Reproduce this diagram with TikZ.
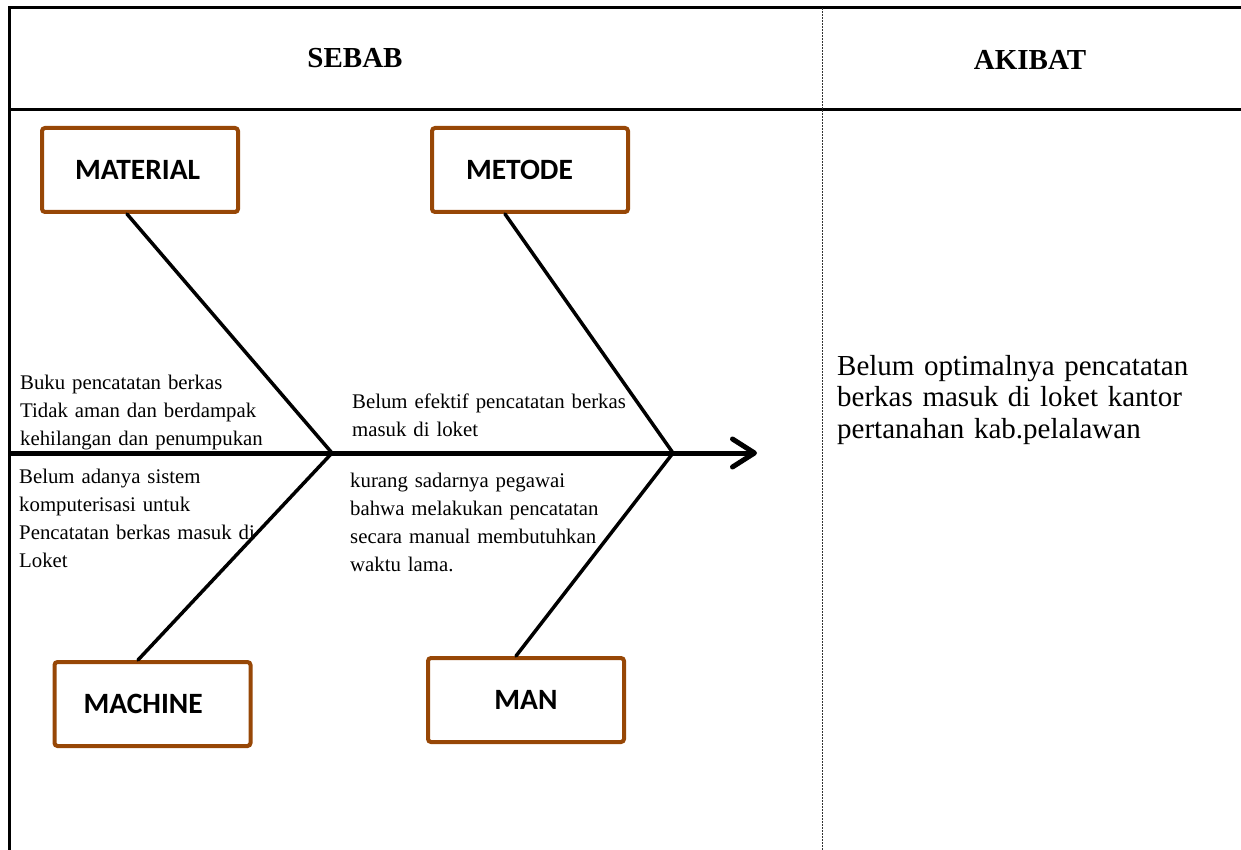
\documentclass[tikz,border=0pt]{standalone}
\usepackage{fontspec}
\setmainfont{Liberation Serif}
\newfontfamily\calib{Carlito}
\usetikzlibrary{arrows.meta}
\definecolor{boxbrown}{HTML}{974706}
\begin{document}
\begin{tikzpicture}[x=1pt,y=-1pt,
  frame/.style={line width=3pt},
  sepline/.style={line width=1pt, dash pattern=on 2pt off 1pt, draw=black!80},
  cbox/.style={draw=boxbrown, line width=4pt, rounded corners=3pt, minimum height=84pt,
    inner xsep=0pt, inner ysep=0pt, text width=196pt, align=left,
    font=\calib\bfseries\fontsize{29.5}{34}\selectfont},
  bone/.style={line width=3.5pt, line cap=round},
  spine/.style={line width=5pt, -{Straight Barb[length=22pt,width=28pt,round]}},
  body/.style={anchor=base west, inner sep=0pt, text width=330pt, align=left,
    font=\fontsize{20.8}{28}\selectfont},
  headtxt/.style={font=\bfseries\fontsize{29}{34}\selectfont, inner sep=0pt}
]
\useasboundingbox (0,0) rectangle (1241,850);
% frame
\draw[frame] (9,850) -- (9,8) -- (1241,8);
\draw[frame] (9,110) -- (1241,110);
\draw[sepline] (822,8) -- (822,850);
% headings
\node[headtxt] (sebab) at (355,58) {SEBAB};
\node[headtxt] (akibat) at (1030,60) {AKIBAT};
% category boxes
\node[cbox] (mat) at (140,170) {\hspace*{33pt}MATERIAL};
\node[cbox] (met) at (530,170) {\hspace*{34pt}METODE};
\node[cbox] (mach) at (152.5,704) {\hspace*{29pt}MACHINE};
\node[cbox, align=center] (man) at (526,700) {MAN};
% spine and bones
\coordinate (tail) at (9,453);
\coordinate (tip) at (757,453);
\coordinate (j1) at (332,453);
\coordinate (j2) at (673,453);
\draw[spine] (tail) -- (tip);
\draw[bone] ([xshift=-13pt]mat.south) -- (j1);
\draw[bone] ([xshift=-14.5pt]mach.north) -- (j1);
\draw[bone] ([xshift=-25pt]met.south) -- (j2);
\draw[bone] ([xshift=-10pt]man.north) -- (j2);
% cause texts
\node[body] (t1) at (20,389) {Buku pencatatan berkas\\Tidak aman dan berdampak\\kehilangan dan penumpukan};
\node[body] (t2) at (19,483) {Belum adanya sistem\\komputerisasi untuk\\Pencatatan berkas masuk di\\Loket};
\node[body] (t3) at (352,408) {Belum efektif pencatatan berkas\\masuk di loket};
\node[body] (t4) at (350,487) {kurang sadarnya pegawai\\bahwa melakukan pencatatan\\secara manual membutuhkan\\waktu lama.};
% effect text
\node[body, text width=400pt, font=\fontsize{29}{31.5}\selectfont] (res) at (837,375) {Belum optimalnya pencatatan\\berkas masuk di loket kantor\\pertanahan kab.pelalawan};
\end{tikzpicture}
\end{document}
